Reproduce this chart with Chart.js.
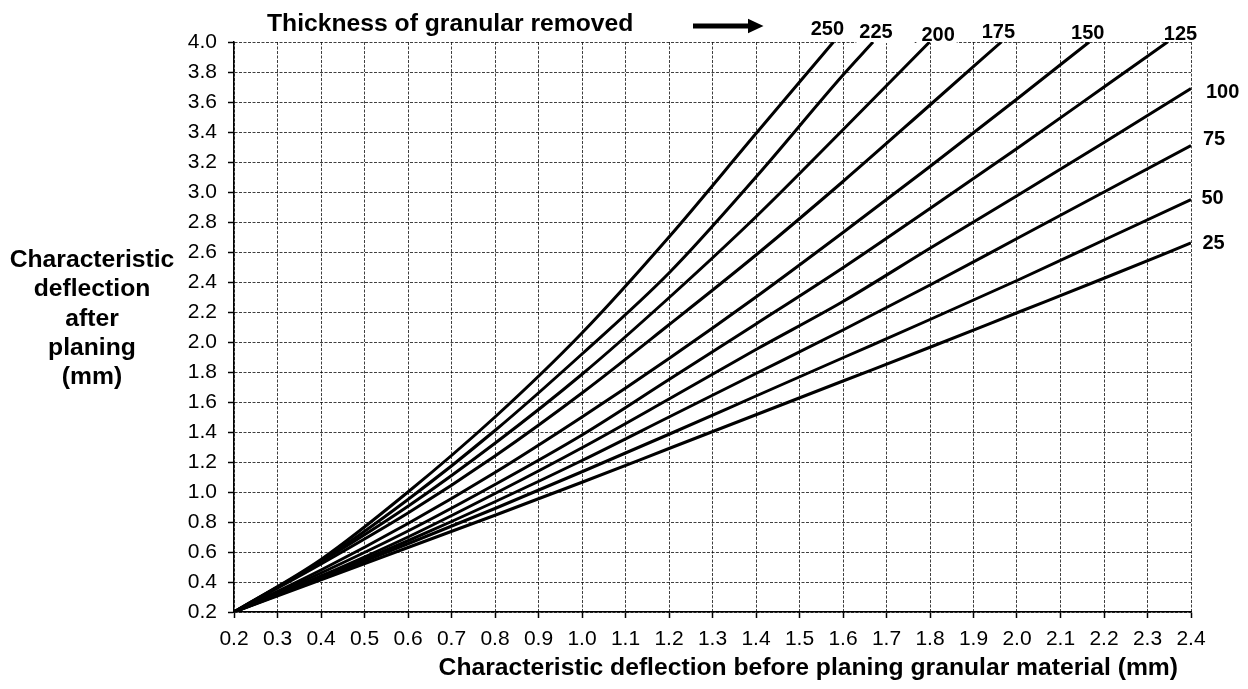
<!DOCTYPE html>
<html>
<head>
<meta charset="utf-8">
<title>Characteristic deflection after planing</title>
<script src="https://cdn.jsdelivr.net/npm/chart.js@4.4.1/dist/chart.umd.min.js"></script>
<style>
    html, body { margin: 0; padding: 0; background: #fff; }
    #wrap { width: 1248px; height: 689px; }
</style>
</head>
<body>
<div id="wrap"><canvas id="planingChart" width="1248" height="689"></canvas></div>
<script>
// --- Data ---

// characteristic deflection before planing (mm)
const deflBefore = [0.2, 0.4, 0.6, 0.8, 1.0, 1.2, 1.4, 1.6, 1.8, 2.0, 2.2, 2.4];

// characteristic deflection after planing (mm), one list per thickness removed
const after250 = [0.2, 0.55, 1.0, 1.5, 2.06, 2.70, 3.39];
const after225 = [0.2, 0.54, 0.95, 1.41, 1.92, 2.46, 3.10, 3.78];
const after200 = [0.2, 0.535, 0.905, 1.325, 1.785, 2.295, 2.835, 3.415];
const after175 = [0.2, 0.52, 0.86, 1.24, 1.66, 2.115, 2.58, 3.07, 3.58];
const after150 = [0.2, 0.48, 0.79, 1.13, 1.50, 1.89, 2.30, 2.73, 3.17, 3.62];
const after125 = [0.2, 0.46, 0.74, 1.05, 1.38, 1.75, 2.12, 2.495, 2.89, 3.29, 3.70];
const after100 = [0.2, 0.44, 0.70, 0.99, 1.295, 1.62, 1.95, 2.27, 2.625, 2.975, 3.33, 3.69];
const after75 = [0.2, 0.43, 0.675, 0.935, 1.21, 1.50, 1.79, 2.08, 2.38, 2.69, 3.0, 3.31];
const after50 = [0.2, 0.425, 0.655, 0.89, 1.135, 1.385, 1.64, 1.895, 2.15, 2.41, 2.68, 2.95];
const after25 = [0.2, 0.415, 0.63, 0.845, 1.065, 1.29, 1.515, 1.74, 1.965, 2.195, 2.425, 2.66];

const thickness = [250, 225, 200, 175, 150, 125, 100, 75, 50, 25];

// deflection before planing where the steeper curves run into 4.0 mm
const topReach = [1.578, 1.669, 1.799, 1.964, 2.166, 2.346];

const xRange = [0.2, 2.4];
const yRange = [0.2, 4.0];

// --- Look ---

const FONT = "'Liberation Sans', Arial, Helvetica, sans-serif";
const GRID = 'rgba(0, 0, 0, 0.75)';

const yTitle = ['Characteristic', 'deflection', 'after', 'planing', '(mm)'];
const xTitle = 'Characteristic deflection before planing granular material (mm)';
const topNote = 'Thickness of granular removed';

// label nudges (px): top labels sit above where the curve leaves the grid,
// the rest sit just right of the last point
const topLabelDx = [-6, 3, 8.5, -3, -1.5, 13];
const topLabelY = [29, 32.5, 35, 32, 33, 34];
const sideLabelDx = [15, 12, 10.5, 11.5];
const sideLabelDy = [4, -6, -1, 0];
// white tabs under two of the top labels (left, right padding)
const topLabelTab = [null, [3, 22], [5, 2], null, null, null];

const afterSeries = [after250, after225, after200, after175, after150,
                     after125, after100, after75, after50, after25];

function curvePoints(ys, i) {
    const pts = ys.map((y, k) => ({ x: deflBefore[k], y: y }));
    if (i < topReach.length) pts.push({ x: topReach[i], y: yRange[1] });
    return pts;
}

function labelBox(ctx, chart, i) {
    const xs = chart.scales.x;
    const text = String(thickness[i]);
    const w = ctx.measureText(text).width;
    const cx = xs.getPixelForValue(topReach[i]) + topLabelDx[i];
    return { text, left: cx - w / 2, right: cx + w / 2, cx, cy: topLabelY[i] };
}

const annotate = {
    id: 'annotate',
    beforeDatasetsDraw(chart) {
        const { ctx, chartArea } = chart;
        ctx.save();
        ctx.font = `bold 20px ${FONT}`;
        ctx.fillStyle = '#fff';
        topLabelTab.forEach((tab, i) => {
            if (!tab) return;
            const b = labelBox(ctx, chart, i);
            ctx.fillRect(b.left - tab[0], 20, b.right - b.left + tab[0] + tab[1], chartArea.top + 1 - 20);
        });
        ctx.restore();
    },
    afterDraw(chart) {
        const { ctx, chartArea, scales: { y } } = chart;
        ctx.save();
        ctx.fillStyle = '#000';

        // axis titles and the note above the plot
        ctx.font = `bold 24.7px ${FONT}`;
        ctx.textBaseline = 'alphabetic';
        ctx.textAlign = 'center';
        yTitle.forEach((line, i) => ctx.fillText(line, 92, 267 + i * 29.3));
        ctx.textAlign = 'right';
        ctx.fillText(xTitle, 1178, 675);
        ctx.textAlign = 'left';
        ctx.fillText(topNote, 267, 31);

        // arrow pointing at the thickness labels
        ctx.fillRect(693, 23.5, 56, 5);
        ctx.beginPath();
        ctx.moveTo(748, 18.8);
        ctx.lineTo(763.5, 26);
        ctx.lineTo(748, 33.2);
        ctx.closePath();
        ctx.fill();

        // thickness labels
        ctx.font = `bold 20px ${FONT}`;
        ctx.textBaseline = 'middle';
        ctx.textAlign = 'center';
        topReach.forEach((_, i) => {
            const b = labelBox(ctx, chart, i);
            ctx.fillText(b.text, b.cx, b.cy);
        });
        ctx.textAlign = 'left';
        for (let i = topReach.length; i < thickness.length; i++) {
            const k = i - topReach.length;
            const ys = afterSeries[i];
            const py = y.getPixelForValue(ys[ys.length - 1]) + sideLabelDy[k];
            ctx.fillText(String(thickness[i]), chartArea.right + sideLabelDx[k], py);
        }
        ctx.restore();
    }
};

// --- Chart ---

const tickFont = { family: FONT, size: 21 };

new Chart(document.getElementById('planingChart'), {
    type: 'line',
    data: {
        datasets: afterSeries.map((ys, i) => ({
            label: thickness[i] + ' mm',
            data: curvePoints(ys, i),
            borderColor: '#000',
            borderWidth: 3,
            pointRadius: 0,
            fill: false,
            cubicInterpolationMode: 'monotone',
            clip: 0
        }))
    },
    options: {
        responsive: false,
        animation: false,
        layout: { padding: { top: 42, right: 57, bottom: 0, left: 0 } },
        plugins: {
            legend: { display: false },
            tooltip: { enabled: false },
            title: { display: false }
        },
        scales: {
            x: {
                type: 'linear',
                min: xRange[0],
                max: xRange[1],
                ticks: {
                    stepSize: 0.1,
                    autoSkip: false,
                    maxRotation: 0,
                    padding: 9,
                    color: '#000',
                    font: tickFont,
                    callback: v => v.toFixed(1)
                },
                grid: { color: GRID, lineWidth: 1, tickColor: '#000', tickLength: 6, tickWidth: 1.5 },
                border: { display: true, color: '#000', width: 1.5, dash: [3, 1.5] },
                afterFit: s => { s.height = 77; }
            },
            y: {
                type: 'linear',
                min: yRange[0],
                max: yRange[1],
                ticks: {
                    stepSize: 0.2,
                    autoSkip: false,
                    padding: 11,
                    color: '#000',
                    font: tickFont,
                    callback: v => v.toFixed(1)
                },
                grid: { color: GRID, lineWidth: 1, tickColor: '#000', tickLength: 6, tickWidth: 1.5 },
                border: { display: true, color: '#000', width: 1.5, dash: [3, 1.5] },
                afterFit: s => { s.width = 234; }
            }
        }
    },
    plugins: [annotate]
});
</script>
</body>
</html>
